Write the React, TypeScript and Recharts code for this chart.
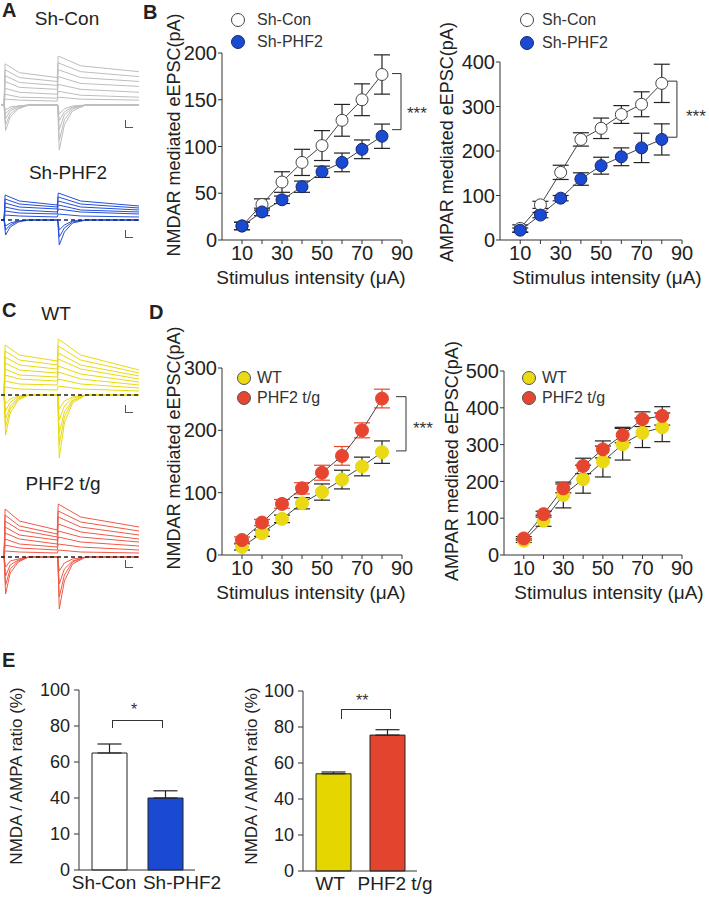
import React from "react";
import { LineChart, Line, XAxis, YAxis, ErrorBar, ReferenceLine, BarChart, Bar, Cell } from "recharts";

const FONT = "'Liberation Sans', Arial, Helvetica, sans-serif";
const INK = "#222";

// stimulus intensity (uA)
const intensity = [10, 20, 30, 40, 50, 60, 70, 80];
const xTicks = [10, 20, 30, 40, 50, 60, 70, 80, 90];

// B: knock-down, mean and SEM (pA)
const nmdaShCon = [15, 38, 62, 83, 101, 128, 150, 177];
const nmdaShConErr = [4, 6, 11, 14, 16, 17, 17, 21];
const nmdaShPhf2 = [15, 30, 43, 57, 73, 83, 97, 111];
const nmdaShPhf2Err = [4, 4, 4, 6, 6, 10, 10, 13];
const ampaShCon = [26, 79, 152, 226, 251, 282, 305, 352];
const ampaShConErr = [8, 8, 16, 15, 23, 20, 28, 43];
const ampaShPhf2 = [22, 56, 94, 137, 167, 187, 207, 226];
const ampaShPhf2Err = [5, 6, 6, 14, 19, 20, 33, 35];

// D: transgenic
const nmdaWt = [13, 35, 58, 83, 101, 121, 142, 165];
const nmdaWtErr = [5, 5, 6, 9, 13, 15, 15, 18];
const nmdaTg = [24, 52, 82, 107, 132, 159, 200, 251];
const nmdaTgErr = [5, 5, 7, 9, 12, 15, 12, 15];
const ampaWt = [39, 93, 163, 206, 254, 301, 332, 347];
const ampaWtErr = [5, 15, 35, 38, 42, 43, 40, 39];
const ampaTg = [45, 111, 181, 242, 287, 326, 369, 378];
const ampaTgErr = [5, 8, 12, 21, 23, 21, 20, 25];

// E: NMDA/AMPA ratio (%)
const shGroups = ["Sh-Con", "Sh-PHF2"];
const shRatio = [65, 40];
const shRatioErr = [5, 4];
const tgGroups = ["WT", "PHF2 t/g"];
const tgRatio = [54, 75.5];
const tgRatioErr = [1, 3];
const ratioTicks = [0, 20, 40, 60, 80, 100];
const ratioTickLabels = ["0", "10", "40", "60", "80", "100"];

// example traces: time points (ms) and amplitudes read per sweep
const traceUpTime = [-3, 0, 1, 15, 52, 53, 75, 132];
const traceDownTime = [-3, 0, 1.5, 6, 14, 24, 52.5, 54, 59, 67, 80, 132];
// up sweeps: [peak1, mid1, pre2, peak2, mid2, end]
const shConUp = [[42, 33, 28, 50, 40, 34], [36, 28, 24, 43, 34, 29], [30, 23, 20, 36, 28, 24], [24, 18, 16, 29, 22, 19], [17, 13, 11, 21, 16, 13], [11, 8, 7, 14, 10, 8], [6, 5, 4, 8, 6, 5]];
// down sweeps: [peak1, mid1, tail1, peak2, mid2, tail2]
const shConDown = [[26, 12, 4, 46, 20, 6], [20, 9, 3, 36, 15, 4], [14, 6, 2, 25, 10, 3], [9, 4, 1, 16, 7, 2], [5, 2, 1, 9, 4, 1]];
const shPhfUp = [[25, 19, 15, 27, 19, 14], [21, 16, 13, 23, 16, 12], [17, 13, 11, 19, 13, 10], [13, 10, 8, 15, 10, 8], [9, 7, 6, 11, 8, 6], [5, 4, 3, 6, 4, 3]];
const shPhfDown = [[15, 7, 2, 25, 12, 3], [10, 5, 1, 17, 8, 2], [6, 3, 1, 10, 5, 1]];
const wtUp = [[50, 40, 34, 56, 40, 25], [44, 35, 30, 49, 35, 22], [38, 30, 26, 42, 30, 19], [32, 25, 22, 36, 26, 16], [26, 20, 18, 29, 21, 13], [20, 16, 14, 23, 16, 10], [14, 11, 10, 16, 11, 7], [8, 6, 5, 9, 6, 4]];
const wtDown = [[40, 18, 5, 63, 28, 8], [32, 14, 4, 50, 22, 6], [24, 11, 3, 38, 17, 5], [16, 7, 2, 25, 11, 3], [9, 4, 1, 14, 6, 2]];
const tgUp = [[48, 36, 27, 53, 40, 30], [42, 31, 23, 46, 35, 26], [36, 27, 20, 40, 30, 22], [30, 22, 17, 33, 25, 18], [24, 18, 13, 26, 20, 15], [18, 13, 10, 20, 15, 11], [12, 9, 7, 13, 10, 7], [6, 5, 4, 7, 5, 4]];
const tgDown = [[37, 16, 5, 52, 24, 7], [28, 12, 4, 40, 18, 5], [19, 8, 3, 27, 12, 4], [10, 4, 2, 14, 6, 2]];

const traceUp = (s: number[]) => [0, 0, ...s].map((v, i) => ({ t: traceUpTime[i], v }));
const traceDown = (s: number[]) =>
  [0, 0, -s[0], -s[1], -s[2], 0, 0, -s[3], -s[4], -s[5], 0, 0].map((v, i) => ({ t: traceDownTime[i], v }));

const pair = (a: number[], ae: number[], b: number[], be: number[]) =>
  intensity.map((x, i) => ({ x, a: a[i], ae: ae[i], b: b[i], be: be[i] }));

function Txt({ x, y, size, children, anchor = "start", bold = false, color = INK }: any) {
  const shift = anchor === "middle" ? "translateX(-50%)" : "none";
  return (
    <div style={{ position: "absolute", left: x, top: y - size * 0.5, fontSize: size, lineHeight: 1, fontWeight: bold ? 700 : 400, color, whiteSpace: "nowrap", transform: shift }}>
      {children}
    </div>
  );
}

function VTxt({ x, y, size, children }: any) {
  return (
    <div style={{ position: "absolute", left: x, top: y, fontSize: size, lineHeight: 1, color: INK, whiteSpace: "nowrap", transform: "translate(-50%, -50%) rotate(-90deg)" }}>
      {children}
    </div>
  );
}

function Stars({ x, y, size = 17, text }: any) {
  return (
    <div style={{ position: "absolute", left: x, top: y - size * 0.3, fontSize: size, lineHeight: 1, color: "#333" }}>{text}</div>
  );
}

function LegendItem({ cx, cy, tx, fill, stroke, label }: any) {
  return (
    <>
      <svg style={{ position: "absolute", left: cx - 8, top: cy - 8 }} width={16} height={16}>
        <circle cx={8} cy={8} r={6.5} fill={fill} stroke={stroke} strokeWidth={1} />
      </svg>
      <Txt x={tx} y={cy} size={16} color="#333">{label}</Txt>
    </>
  );
}

function ScaleBar({ x, y }: any) {
  return <div style={{ position: "absolute", left: x, top: y, width: 7, height: 7, borderLeft: "1px solid #555", borderBottom: "1px solid #555" }} />;
}

function TracePanel({ top, height, yDomain, up, down, color, dashed }: any) {
  return (
    <div style={{ position: "absolute", left: 1, top }}>
      <LineChart width={138} height={height} margin={{ top: 0, right: 0, bottom: 0, left: 0 }}>
        <XAxis dataKey="t" type="number" domain={[-3, 132]} hide />
        <YAxis type="number" domain={yDomain} hide />
        {up.map((s: number[], i: number) => (
          <Line key={"u" + i} data={traceUp(s)} dataKey="v" stroke={color} strokeWidth={1} dot={false} isAnimationActive={false} />
        ))}
        {down.map((s: number[], i: number) => (
          <Line key={"d" + i} data={traceDown(s)} dataKey="v" stroke={color} strokeWidth={1} dot={false} isAnimationActive={false} />
        ))}
        {dashed && <ReferenceLine y={0} stroke={dashed} strokeDasharray="4 3" strokeWidth={1.3} />}
      </LineChart>
    </div>
  );
}

function CurvePanel({ plotLeft, plotTop, plotW, plotH, yMax, yTicks, rows, sa, sb, bracket }: any) {
  const yw = 60;
  const mt = 10;
  const mr = 24;
  return (
    <div style={{ position: "absolute", left: plotLeft - yw, top: plotTop - mt }}>
      <LineChart width={yw + plotW + mr} height={mt + plotH + 34} data={rows} margin={{ top: mt, right: mr, bottom: 0, left: 0 }}>
        <XAxis
          dataKey="x"
          type="number"
          domain={[0, 90]}
          ticks={xTicks}
          interval={0}
          tickFormatter={(v: number) => (v % 20 === 10 ? String(v) : "")}
          fontSize={20}
          tick={{ fill: INK }}
          tickSize={4}
          stroke="#333"
          height={34}
        />
        <YAxis
          type="number"
          domain={[0, yMax]}
          ticks={yTicks}
          interval={0}
          width={yw}
          fontSize={20}
          tick={{ fill: INK }}
          tickSize={4}
          tickMargin={1}
          stroke="#333"
        />
        {bracket && (
          <ReferenceLine segment={[{ x: bracket.x0, y: bracket.yTop }, { x: bracket.x1, y: bracket.yTop }]} stroke="#333" ifOverflow="visible" />
        )}
        {bracket && (
          <ReferenceLine segment={[{ x: bracket.x0, y: bracket.yBottom }, { x: bracket.x1, y: bracket.yBottom }]} stroke="#333" ifOverflow="visible" />
        )}
        {bracket && (
          <ReferenceLine segment={[{ x: bracket.x1, y: bracket.yTop }, { x: bracket.x1, y: bracket.yBottom }]} stroke="#333" ifOverflow="visible" />
        )}
        <Line dataKey="a" stroke="#444" strokeWidth={1} dot={{ r: sa.r, fill: sa.fill, stroke: sa.stroke, strokeWidth: 1 }} isAnimationActive={false}>
          <ErrorBar dataKey="ae" width={8} stroke={sa.err} strokeWidth={1.2} direction="y" />
        </Line>
        <Line dataKey="b" stroke="#444" strokeWidth={1} dot={{ r: sb.r, fill: sb.fill, stroke: sb.stroke, strokeWidth: 1 }} isAnimationActive={false}>
          <ErrorBar dataKey="be" width={8} stroke={sb.err} strokeWidth={1.2} direction="y" />
        </Line>
      </LineChart>
    </div>
  );
}

function RatioPanel({ plotLeft, plotTop, plotW, plotH, groups, values, errs, fills, shifts, pad }: any) {
  const rows = groups.map((g: string, i: number) => ({ g, v: values[i], e: [0, errs[i]] }));
  const yw = 50;
  const mt = 10;
  const tick = (p: any) => (
    <text x={p.x + shifts[p.index]} y={p.y} dy="0.71em" textAnchor="middle" fontSize={19} fill={INK} fontFamily={FONT}>
      {p.payload.value}
    </text>
  );
  return (
    <div style={{ position: "absolute", left: plotLeft - yw, top: plotTop - mt }}>
      <BarChart width={yw + plotW + 30} height={mt + plotH + 30} data={rows} margin={{ top: mt, right: 30, bottom: 0, left: 0 }}>
        <XAxis dataKey="g" type="category" interval={0} tickLine={false} tickSize={4} stroke="#333" height={30} padding={{ left: pad, right: pad }} tick={tick} />
        <YAxis
          type="number"
          domain={[0, 100]}
          ticks={ratioTicks}
          interval={0}
          tickFormatter={(v: number) => ratioTickLabels[ratioTicks.indexOf(v)]}
          width={yw}
          tickSize={5}
          tickMargin={4}
          fontSize={18}
          tick={{ fill: INK }}
          stroke="#333"
        />
        <Bar dataKey="v" barSize={35} stroke="#222" strokeWidth={1} isAnimationActive={false}>
          {rows.map((r: any, i: number) => (
            <Cell key={r.g} fill={fills[i]} />
          ))}
          <ErrorBar dataKey="e" width={12} stroke="#222" strokeWidth={1.2} direction="y" />
        </Bar>
      </BarChart>
    </div>
  );
}

function Bracket({ x0, x1, y, legs }: any) {
  return <div style={{ position: "absolute", left: x0, top: y, width: x1 - x0, height: legs, borderTop: "1px solid #333", borderLeft: "1px solid #333", borderRight: "1px solid #333" }} />;
}

const openCircle = { r: 6, fill: "#fff", stroke: "#444", err: "#222" };
const blueDot = { r: 6, fill: "#1B4AD2", stroke: "#17286e", err: "#222" };
const yellowDot = { r: 6.5, fill: "#EAD914", stroke: "#EAD914", err: "#222" };
const redDot = { r: 6.5, fill: "#E6462F", stroke: "#E6462F", err: "#E6462F" };
const redDotDark = { r: 6.5, fill: "#E6462F", stroke: "#E6462F", err: "#222" };

export default function App() {
  return (
    <div style={{ position: "absolute", left: 0, top: 0, width: 709, height: 897, background: "#fff", overflow: "hidden", fontFamily: FONT }}>
      {/* A */}
      <Txt x={2} y={10} size={20} bold>A</Txt>
      <Txt x={67} y={18} size={19} anchor="middle">Sh-Con</Txt>
      <TracePanel top={56} height={100} yDomain={[-52, 48]} up={shConUp} down={shConDown} color="#BDBDBD" />
      <ScaleBar x={125} y={120} />
      <Txt x={68} y={172} size={19} anchor="middle">Sh-PHF2</Txt>
      <TracePanel top={188} height={62} yDomain={[-30, 32]} up={shPhfUp} down={shPhfDown} color="#2450D8" dashed="#1a2a70" />
      <ScaleBar x={125} y={230} />

      {/* B */}
      <Txt x={143} y={12} size={20} bold>B</Txt>
      <CurvePanel plotLeft={222} plotTop={53} plotW={180} plotH={187} yMax={200} yTicks={[0, 50, 100, 150, 200]}
        rows={pair(nmdaShCon, nmdaShConErr, nmdaShPhf2, nmdaShPhf2Err)} sa={openCircle} sb={blueDot}
        bracket={{ x0: 85, x1: 89.5, yTop: 178, yBottom: 118 }} />
      <Stars x={407} y={110} text="***" />
      <VTxt x={174} y={135} size={18}>NMDAR mediated eEPSC(pA)</VTxt>
      <Txt x={311} y={277} size={19} anchor="middle">Stimulus intensity (μA)</Txt>
      <LegendItem cx={238} cy={20} tx={257} fill="#fff" stroke="#444" label="Sh-Con" />
      <LegendItem cx={238} cy={42} tx={257} fill="#1B4AD2" stroke="#17286e" label="Sh-PHF2" />

      <CurvePanel plotLeft={500} plotTop={62} plotW={182} plotH={178} yMax={400} yTicks={[0, 100, 200, 300, 400]}
        rows={pair(ampaShCon, ampaShConErr, ampaShPhf2, ampaShPhf2Err)} sa={openCircle} sb={blueDot}
        bracket={{ x0: 83, x1: 87.5, yTop: 357, yBottom: 231 }} />
      <Stars x={686} y={113} text="***" />
      <VTxt x={447} y={142} size={18}>AMPAR mediated eEPSC(pA)</VTxt>
      <Txt x={607} y={277} size={19} anchor="middle">Stimulus intensity (μA)</Txt>
      <LegendItem cx={527} cy={20} tx={542} fill="#fff" stroke="#444" label="Sh-Con" />
      <LegendItem cx={527} cy={43} tx={542} fill="#1B4AD2" stroke="#17286e" label="Sh-PHF2" />

      {/* C */}
      <Txt x={2} y={310} size={20} bold>C</Txt>
      <Txt x={56} y={313} size={19} anchor="middle">WT</Txt>
      <TracePanel top={338} height={125} yDomain={[-68, 57]} up={wtUp} down={wtDown} color="#E8DA10" dashed="#222" />
      <ScaleBar x={125} y={405} />
      <Txt x={63} y={483} size={19} anchor="middle">PHF2 t/g</Txt>
      <TracePanel top={499} height={118} yDomain={[-60, 58]} up={tgUp} down={tgDown} color="#EF5A48" dashed="#222" />
      <ScaleBar x={125} y={560} />

      {/* D */}
      <Txt x={149} y={312} size={20} bold>D</Txt>
      <CurvePanel plotLeft={222} plotTop={368} plotW={180} plotH={187} yMax={300} yTicks={[0, 100, 200, 300]}
        rows={pair(nmdaWt, nmdaWtErr, nmdaTg, nmdaTgErr)} sa={yellowDot} sb={redDot}
        bracket={{ x0: 87, x1: 92, yTop: 254, yBottom: 167 }} />
      <Stars x={413} y={425} text="***" />
      <VTxt x={174} y={448} size={18}>NMDAR mediated eEPSC(pA)</VTxt>
      <Txt x={311} y={592} size={19} anchor="middle">Stimulus intensity (μA)</Txt>
      <LegendItem cx={244} cy={378} tx={257} fill="#EAD914" stroke="#555" label="WT" />
      <LegendItem cx={244} cy={398} tx={257} fill="#E6462F" stroke="#555" label="PHF2 t/g" />

      <CurvePanel plotLeft={504} plotTop={371} plotW={178} plotH={184} yMax={500} yTicks={[0, 100, 200, 300, 400, 500]}
        rows={pair(ampaWt, ampaWtErr, ampaTg, ampaTgErr)} sa={yellowDot} sb={redDotDark} />
      <VTxt x={452} y={461} size={18}>AMPAR mediated eEPSC(pA)</VTxt>
      <Txt x={609} y={592} size={19} anchor="middle">Stimulus intensity (μA)</Txt>
      <LegendItem cx={529} cy={378} tx={542} fill="#EAD914" stroke="#555" label="WT" />
      <LegendItem cx={529} cy={398} tx={542} fill="#E6462F" stroke="#555" label="PHF2 t/g" />

      {/* E */}
      <Txt x={2} y={660} size={20} bold>E</Txt>
      <RatioPanel plotLeft={79} plotTop={690} plotW={116} plotH={180} groups={shGroups} values={shRatio} errs={shRatioErr}
        fills={["#fff", "#1B4AD2"]} shifts={[-5, 17]} pad={2} />
      <Bracket x0={112} x1={161} y={720} legs={7} />
      <Stars x={131} y={707} size={16} text="*" />
      <VTxt x={16} y={776} size={17}>NMDA / AMPA ratio (%)</VTxt>

      <RatioPanel plotLeft={303} plotTop={691} plotW={114} plotH={180} groups={tgGroups} values={tgRatio} errs={tgRatioErr}
        fills={["#E6D600", "#E3442D"]} shifts={[-3, 8]} pad={3} />
      <Bracket x0={341} x1={389} y={709} legs={9} />
      <Stars x={356} y={698} size={16} text="**" />
      <VTxt x={251} y={776} size={17}>NMDA / AMPA ratio (%)</VTxt>
    </div>
  );
}
